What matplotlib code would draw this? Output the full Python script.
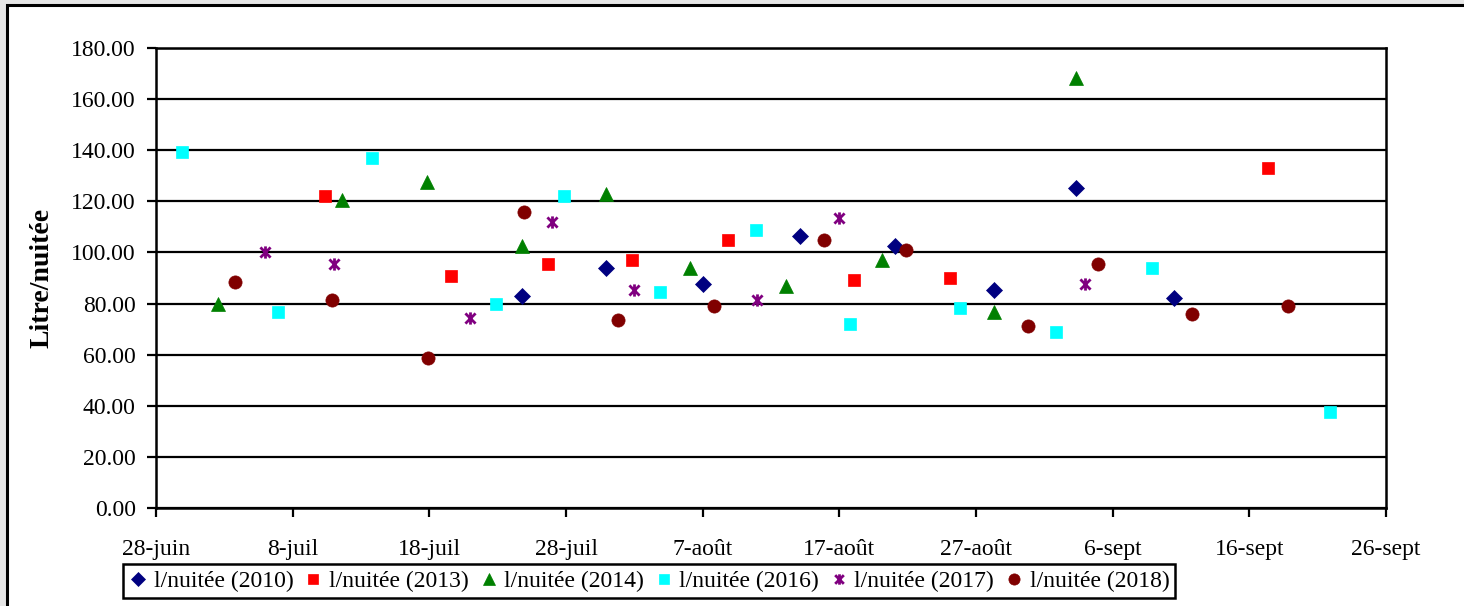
import matplotlib
matplotlib.use("Agg")
import matplotlib.pyplot as plt
from matplotlib.path import Path
from matplotlib.patches import Rectangle
from matplotlib.ticker import FormatStrFormatter

# Day offsets counted from 28 June, and litres per night for each season
days_2010 = [26.8, 32.9, 40.0, 47.1, 54.1, 61.3, 67.3, 74.5]
vals_2010 = [83.1, 94.0, 87.6, 106.6, 102.7, 85.3, 125.1, 82.2]

days_2013 = [12.4, 21.6, 28.7, 34.8, 41.85, 51.1, 58.1, 81.4]
vals_2013 = [122.1, 90.9, 95.6, 97.2, 105.0, 89.3, 90.1, 133.2]

days_2014 = [4.5, 13.6, 19.8, 26.75, 32.9, 39.1, 46.1, 53.1, 61.3, 67.3]
vals_2014 = [79.8, 120.4, 127.6, 102.5, 122.8, 94.0, 86.9, 97.0, 76.7, 168.3]

days_2016 = [1.9, 8.9, 15.8, 24.85, 29.85, 36.9, 43.9, 50.8, 58.8, 65.85, 72.9, 85.9]
vals_2016 = [139.4, 76.7, 137.1, 80.0, 122.2, 84.6, 108.9, 72.0, 78.3, 69.0, 94.0, 37.7]

days_2017 = [8.0, 13.0, 22.95, 29.0, 34.95, 44.0, 50.0, 68.0]
vals_2017 = [100.3, 95.5, 74.5, 112.0, 85.4, 81.4, 113.5, 87.7]

days_2018 = [5.8, 12.85, 19.9, 26.9, 33.8, 40.8, 48.85, 54.9, 63.8, 68.9, 75.8, 82.8]
vals_2018 = [88.6, 81.4, 58.8, 116.0, 73.6, 79.0, 105.0, 101.1, 71.3, 95.6, 76.0, 79.2]

series_labels = ["l/nuitée (2010)", "l/nuitée (2013)", "l/nuitée (2014)",
                 "l/nuitée (2016)", "l/nuitée (2017)", "l/nuitée (2018)"]

tick_days = [0, 10, 20, 30, 40, 50, 60, 70, 80, 90]
tick_labels = ["28-juin", "8-juil", "18-juil", "28-juil", "7-août",
               "17-août", "27-août", "6-sept", "16-sept", "26-sept"]
y_ticks = [0, 20, 40, 60, 80, 100, 120, 140, 160, 180]

plt.rcParams["font.family"] = ["Liberation Serif", "DejaVu Serif"]

W, H = 1464, 606
fig = plt.figure(figsize=(W / 100, H / 100), dpi=100, facecolor="#e6e6e6")

# white chart frame with black border
fig.patches.append(Rectangle((7 / W, -0.05), 1.1, (H - 5) / H + 0.05,
                             transform=fig.transFigure, facecolor="white",
                             edgecolor="black", linewidth=2.2, zorder=-5))

ax = fig.add_axes([156 / W, 1 - 508 / H, (1386 - 156) / W, (508 - 48) / H])
ax.set_zorder(2)
ax.set_facecolor("white")

# Excel-style "star": an X crossed by a vertical bar
star = Path([(-1, -1), (1, 1), (-1, 1), (1, -1), (0, -1.2), (0, 1.2)],
            [Path.MOVETO, Path.LINETO, Path.MOVETO, Path.LINETO,
             Path.MOVETO, Path.LINETO])

styles = [
    (days_2010, vals_2010, dict(marker="D", color="#000080", ms=8.5)),
    (days_2013, vals_2013, dict(marker="s", color="#FF0000", ms=8.8)),
    (days_2014, vals_2014, dict(marker="^", color="#008000", ms=10.5)),
    (days_2016, vals_2016, dict(marker="s", color="#00FFFF", ms=8.8)),
    (days_2017, vals_2017, dict(marker=star, color="#800080", ms=8.8, mew=2.0)),
    (days_2018, vals_2018, dict(marker="o", color="#800000", ms=9.5)),
]
handles = []
for (xs, ys, st), lab in zip(styles, series_labels):
    h, = ax.plot(xs, ys, linestyle="none", marker=st["marker"], color=st["color"],
                 markersize=st["ms"], markeredgewidth=st.get("mew", 0.5),
                 markeredgecolor=st["color"], label=lab, zorder=3)
    handles.append(h)

ax.set_xlim(0, 90)
ax.set_ylim(0, 180)
ax.set_xticks(tick_days)
ax.set_xticklabels(tick_labels)
ax.set_yticks(y_ticks)
ax.yaxis.set_major_formatter(FormatStrFormatter("%.2f"))
ax.tick_params(axis="both", direction="out", length=6.5, width=1.6,
               labelsize=17, color="black")
ax.tick_params(axis="y", pad=8)
ax.tick_params(axis="x", pad=16)

ax.grid(axis="y", color="black", linewidth=1.6, zorder=1)
ax.set_axisbelow(True)
for s in ax.spines.values():
    s.set_linewidth(1.8)
    s.set_color("black")

ax.set_ylabel("Litre/nuitée", fontsize=20, fontweight="bold", labelpad=12)

leg = fig.legend(handles=handles, labels=series_labels, ncol=6,
                 loc="center", bbox_to_anchor=(649 / W, 1 - 581 / H),
                 fontsize=17, frameon=True, fancybox=False, framealpha=1,
                 edgecolor="black", handlelength=0.8, handletextpad=0.25,
                 columnspacing=0.45, borderpad=0.25, markerscale=0.85)
leg.set_zorder(3)
leg.get_frame().set_linewidth(1.8)

fig.savefig("out.png", dpi=100, facecolor=fig.get_facecolor())
